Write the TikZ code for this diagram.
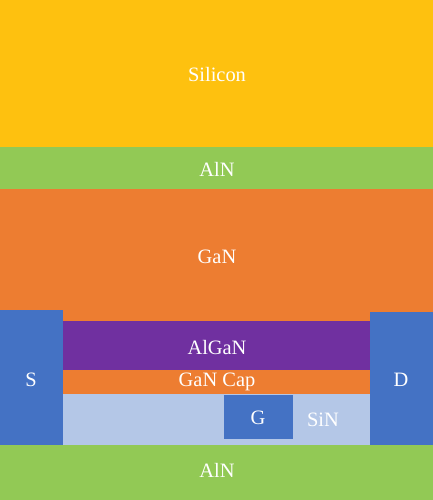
\documentclass[tikz,border=0pt]{standalone}
\usepackage{fontspec}
\setmainfont{Liberation Serif}
\definecolor{siy}{HTML}{FEC10F}
\definecolor{alng}{HTML}{92C955}
\definecolor{gano}{HTML}{ED7D31}
\definecolor{contb}{HTML}{4472C4}
\definecolor{algp}{HTML}{7030A0}
\definecolor{sinb}{HTML}{B4C7E7}
\begin{document}
\begin{tikzpicture}[x=1bp,y=-1bp,
  lab/.style={text=white,font=\fontsize{20.5}{24}\selectfont,inner sep=0pt,anchor=center}]
\useasboundingbox (0,0) rectangle (433,500);
\fill[siy] (0,0) rectangle (433,147);
\fill[alng] (0,147) rectangle (433,189);
\fill[gano] (0,189) rectangle (433,394);
\fill[algp] (63,321) rectangle (370,370);
\fill[sinb] (63,394) rectangle (370,445);
\fill[alng] (0,445) rectangle (433,500);
\fill[contb] (0,310) rectangle (63,445);
\fill[contb] (370,312) rectangle (433,445);
\fill[contb] (224,395) rectangle (293,439);
\node[lab] (si) at (217,75) {Silicon};
\node[lab] (aln1) at (217,169) {AlN};
\node[lab] (gan) at (217,257) {GaN};
\node[lab] (algan) at (217,348) {AlGaN};
\node[lab] (cap) at (217,382) {GaN Cap};
\node[lab] (s) at (31,380) {S};
\node[lab] (d) at (401,380) {D};
\node[lab] (g) at (258,418) {G};
\node[lab] (sin) at (323,420) {SiN};
\node[lab] (aln2) at (217,470) {AlN};
\end{tikzpicture}
\end{document}
